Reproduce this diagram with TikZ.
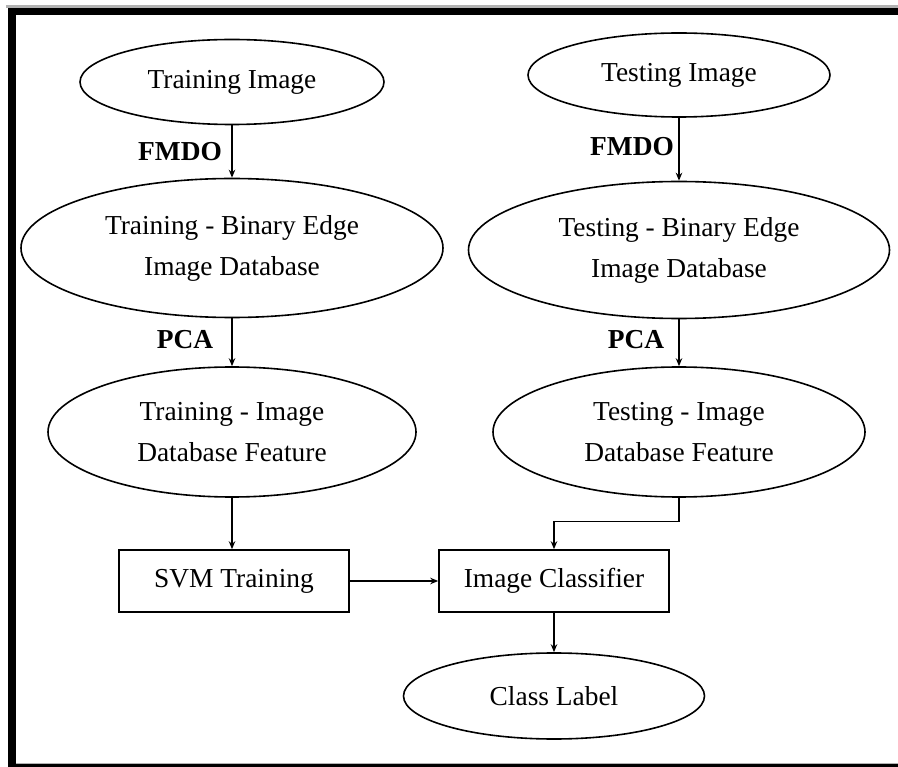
\documentclass[tikz,border=0pt]{standalone}
\usepackage{fontspec}
\setmainfont{Liberation Serif}
\usetikzlibrary{shapes.geometric,arrows.meta}

\begin{document}
\begin{tikzpicture}[x=1pt,y=-1pt,
  every node/.style={font=\fontsize{27.4}{41}\selectfont},
  oval/.style={ellipse,draw,line width=1.6pt,inner sep=0pt,align=center},
  procbox/.style={rectangle,draw,line width=1.6pt,inner sep=0pt,
    minimum width=230pt,minimum height=62pt},
  flow/.style={line width=1.3pt,-{Stealth[length=8pt,width=6.5pt]}},
  steplabel/.style={font=\fontsize{27.4}{32}\selectfont\bfseries}]
\useasboundingbox (0,0) rectangle (898,767);

% outer frame
\fill[gray!60] (6,5.5) rectangle (898,8);
\fill[black] (8,8) rectangle (898,15);
\fill[black] (8,8) rectangle (16,767);
\fill[gray!60] (16,762.5) rectangle (898,764);
\fill[black] (8,764) rectangle (898,767);

% training branch
\node[oval,minimum width=304pt,minimum height=85pt] (ti) at (232,82) {Training Image};
\node[oval,minimum width=422pt,minimum height=139pt] (tbe) at (232,248)
  {Training - Binary Edge\\Image Database};
\node[oval,minimum width=368pt,minimum height=130pt] (tf) at (232,432)
  {Training - Image\\Database Feature};
\node[procbox] (svm) at (234,581) {SVM Training};

% testing branch
\node[oval,minimum width=302pt,minimum height=84pt] (si) at (679,75) {Testing Image};
\node[oval,minimum width=421pt,minimum height=137pt] (sbe) at (679,250)
  {Testing - Binary Edge\\Image Database};
\node[oval,minimum width=372pt,minimum height=130pt] (sf) at (679,432)
  {Testing - Image\\Database Feature};

% classification
\node[procbox] (cls) at (554,581) {Image Classifier};
\node[oval,minimum width=301pt,minimum height=86pt] (cl) at (554,696) {Class Label};

% step labels
\node[steplabel] (fmdoL) at (180,152) {FMDO};
\node[steplabel] (fmdoR) at (632,147) {FMDO};
\node[steplabel] (pcaL) at (185,340) {PCA};
\node[steplabel] (pcaR) at (636,340) {PCA};

% connectors
\draw[flow] (ti) -- (tbe);
\draw[flow] (tbe) -- (tf);
\draw[flow] (tf.south) -- (tf.south |- svm.north);
\draw[flow] (si) -- (sbe);
\draw[flow] (sbe) -- (sf);
\draw[flow] (sf.south) -- ++(0,24) -| (cls.north);
\draw[flow] (svm) -- (cls);
\draw[flow] (cls) -- (cl);
\end{tikzpicture}
\end{document}
